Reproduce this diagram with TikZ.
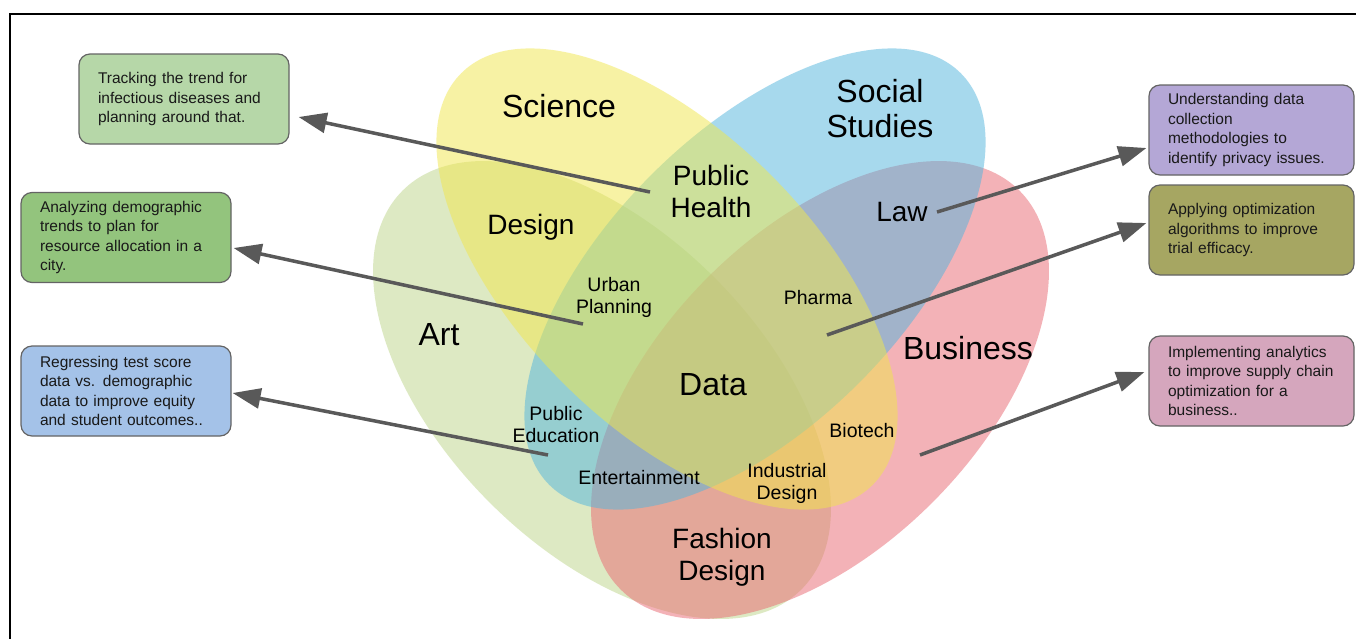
\documentclass[tikz,border=0pt]{standalone}
\usepackage{fontspec}
\setmainfont{Liberation Sans}
\usetikzlibrary{arrows.meta}
\definecolor{scic}{RGB}{241,231,75}
\definecolor{socc}{RGB}{81,181,221}
\definecolor{artc}{RGB}{189,213,137}
\definecolor{busc}{RGB}{233,102,112}
\definecolor{boxline}{RGB}{100,100,100}
\definecolor{arrc}{RGB}{89,89,89}
\definecolor{bA}{RGB}{182,215,168}
\definecolor{bB}{RGB}{147,196,125}
\definecolor{bC}{RGB}{164,194,232}
\definecolor{bD}{RGB}{180,167,214}
\definecolor{bE}{RGB}{166,166,98}
\definecolor{bF}{RGB}{213,166,189}
\begin{document}
\begin{tikzpicture}[x=1pt,y=-1pt,
  venn/.style={fill opacity=0.5},
  big/.style={font=\fontsize{32}{35}\selectfont, align=center, inner sep=0pt},
  mid/.style={font=\fontsize{28}{32}\selectfont, align=center, inner sep=0pt},
  small/.style={font=\fontsize{19.5}{22}\selectfont, align=center, inner sep=0pt},
  note/.style={draw=boxline, line width=1.2pt, rounded corners=11pt, minimum height=90pt, inner xsep=19pt, inner ysep=4pt, align=left, font=\fontsize{15.5}{19.5}\selectfont, text=black!90},
  arr/.style={draw=arrc, line width=3.5pt, -{Triangle[length=28pt,width=20pt]}, fill=arrc},
]
\useasboundingbox (0,0) rectangle (1356,638);
\fill[white] (0,0) rectangle (1356,638);
% frame
\draw[line width=2.2pt] (10,645) -- (10,14) -- (1365,14);

% Venn ellipses (drawn Art, Business, Social, Science)
\begin{scope}[shift={(602,390)},rotate=-45]
  \fill[artc,venn] (0,0) ellipse [x radius=282pt, y radius=159pt];
\end{scope}
\begin{scope}[shift={(820,390)},rotate=45]
  \fill[busc,venn] (0,0) ellipse [x radius=282pt, y radius=159pt];
\end{scope}
\begin{scope}[shift={(755,279)},rotate=45]
  \fill[socc,venn] (0,0) ellipse [x radius=291pt, y radius=147pt];
\end{scope}
\begin{scope}[shift={(667,279)},rotate=-45]
  \fill[scic,venn] (0,0) ellipse [x radius=291pt, y radius=147pt];
\end{scope}

% labels
\node[big] (lsci) at (559,106) {Science};
\node[big] (lsoc) at (880,109) {Social\\Studies};
\node[big] (lart) at (439,335) {Art};
\node[big] (lbus) at (968,348) {Business};
\node[mid] (ldes) at (531,227) {Design};
\node[mid] (lph) at (711,191) {Public\\Health};
\node[mid] (llaw) at (902,212) {Law};
\node[big] (ldata) at (713,385) {Data};
\node[mid] (lfash) at (722,557) {Fashion\\Design};
\node[small] (lurb) at (614,297) {Urban\\Planning};
\node[small] (lpha) at (818,298) {Pharma};
\node[small] (lpe) at (556,425) {Public\\Education};
\node[small] (lent) at (639,478) {Entertainment};
\node[small] (lind) at (787,483) {Industrial\\Design};
\node[small] (lbio) at (862,431) {Biotech};

% note boxes
\node[note, fill=bA, text width=172pt] (box1) at (184,99) {Tracking the trend for\\infectious diseases and\\planning around that.};
\node[note, fill=bB, text width=172pt] (box2) at (126,237.5) {Analyzing demographic\\trends to plan for\\resource allocation in a\\city.};
\node[note, fill=bC, text width=172pt] (box3) at (126,391) {Regressing test score\\data vs. demographic\\data to improve equity\\and student outcomes..};
\node[note, fill=bD, text width=167pt] (box4) at (1251.5,130) {Understanding data\\collection\\methodologies to\\identify privacy issues.};
\node[note, fill=bE, text width=167pt] (box5) at (1251.5,230) {Applying optimization\\algorithms to improve\\trial efficacy.};
\node[note, fill=bF, text width=167pt] (box6) at (1251.5,381) {Implementing analytics\\to improve supply chain\\optimization for a\\business..};

% arrow tails
\coordinate (t1) at (650,192);
\coordinate (t2) at (583,324);
\coordinate (t3) at (548,455);
\coordinate (t4) at (937,212);
\coordinate (t5) at (827,335);
\coordinate (t6) at (920,455);

\draw[arr] (t1) -- ([shift={(9,18)}]box1.east);
\draw[arr] (t2) -- ([shift={(2,10.5)}]box2.east);
\draw[arr] (t3) -- ([shift={(1,2)}]box3.east);
\draw[arr] (t4) -- ([shift={(-2,18)}]box4.west);
\draw[arr] (t5) -- ([shift={(-2,-7)}]box5.west);
\draw[arr] (t6) -- ([shift={(-4,-9)}]box6.west);
\end{tikzpicture}
\end{document}
